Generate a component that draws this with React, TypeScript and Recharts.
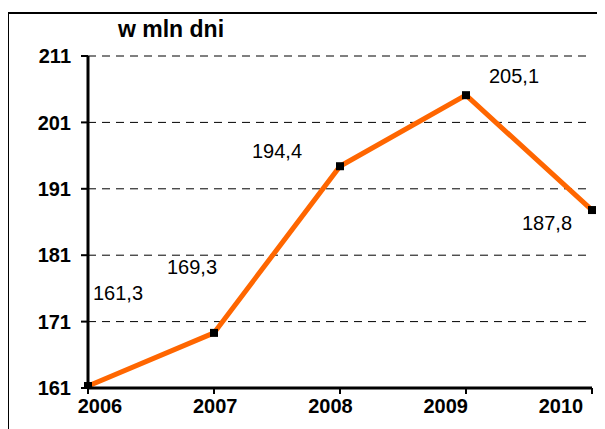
import React from "react";
import { LineChart, Line, XAxis, YAxis, CartesianGrid, LabelList } from "recharts";

const years = ["2006", "2007", "2008", "2009", "2010"];
const values = [161.3, 169.3, 194.4, 205.1, 187.8];
const yTicks = [161, 171, 181, 191, 201, 211];
const labelOffsets = [
  [30, -93],
  [-22, -66],
  [-63, -15],
  [48, -19],
  [-45, 13],
];

const data = years.map((y, i) => ({ year: y, value: values[i] }));
const font = "'Liberation Sans', Arial, sans-serif";

const SquareDot = (props: any) => {
  const { cx, cy } = props;
  if (cx == null || cy == null) return null;
  return <rect x={cx - 4} y={cy - 4} width={8} height={8} fill="#000" />;
};

const ValueLabel = (props: any) => {
  const { x, y, value, index } = props;
  const [dx, dy] = labelOffsets[index] || [0, -20];
  return (
    <text
      x={x + dx}
      y={y + dy}
      textAnchor="middle"
      dominantBaseline="central"
      fontFamily={font}
      fontSize={20}
      fill="#000"
    >
      {String(value).replace(".", ",")}
    </text>
  );
};

const XTick = (props: any) => {
  const { x, y, payload, index } = props;
  const shift = 12 - index * 10.75;
  return (
    <text
      x={x + shift}
      y={y}
      dy={15}
      textAnchor="middle"
      fontFamily={font}
      fontSize={20}
      fontWeight="bold"
      fill="#000"
    >
      {payload.value}
    </text>
  );
};

export default function App() {
  return (
    <div style={{ position: "relative", width: 597, height: 421, overflow: "hidden" }}>
      <div
        style={{
          position: "absolute",
          left: 0,
          top: 4,
          width: 700,
          height: 500,
          borderTop: "2px solid #000",
          borderLeft: "1.5px solid #000",
        }}
      />
      <div
        style={{
          position: "absolute",
          left: 110,
          top: 8,
          fontFamily: font,
          fontWeight: "bold",
          fontSize: 23,
          color: "#000",
          whiteSpace: "nowrap",
        }}
      >
        w mln dni
      </div>
      <div style={{ position: "absolute", left: 0, top: 0 }}>
        <LineChart
          width={597}
          height={421}
          data={data}
          margin={{ top: 48, right: 13, bottom: 11, left: 20 }}
        >
          <CartesianGrid
            horizontal={true}
            vertical={false}
            stroke="#000"
            strokeWidth={1}
            strokeDasharray="8 6"
          />
          <XAxis
            dataKey="year"
            height={30}
            axisLine={{ stroke: "#000", strokeWidth: 3 }}
            tickLine={{ stroke: "#000", strokeWidth: 2 }}
            tickSize={6}
            tickMargin={4}
            interval={0}
            tick={<XTick />}
          />
          <YAxis
            width={60}
            domain={[161, 211]}
            ticks={yTicks}
            type="number"
            allowDataOverflow
            axisLine={{ stroke: "#000", strokeWidth: 3 }}
            tickLine={{ stroke: "#000", strokeWidth: 2 }}
            tickSize={7}
            tickMargin={10}
            tick={{ fill: "#000", fontSize: 20, fontWeight: "bold", fontFamily: font }}
          />
          <Line
            type="linear"
            dataKey="value"
            stroke="#FF6600"
            strokeWidth={5}
            dot={<SquareDot />}
            activeDot={false}
            isAnimationActive={false}
          >
            <LabelList dataKey="value" content={<ValueLabel />} />
          </Line>
        </LineChart>
      </div>
    </div>
  );
}
